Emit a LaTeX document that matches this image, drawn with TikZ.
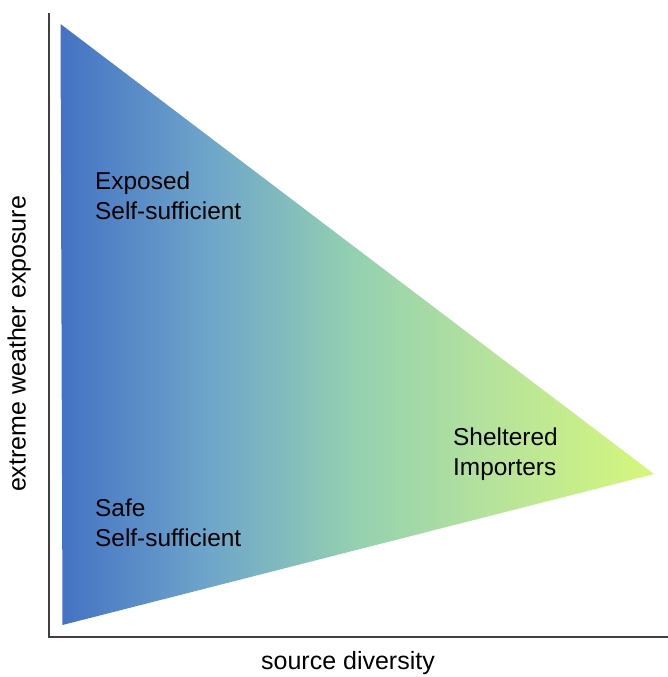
\documentclass[tikz,border=0pt]{standalone}
\usepackage{fontspec}
\setmainfont{Liberation Sans}
\definecolor{gradleft}{RGB}{68,114,196}
\definecolor{gradquarter}{RGB}{110,165,202}
\definecolor{gradmid}{RGB}{149,209,176}
\definecolor{gradthreeq}{RGB}{181,226,156}
\definecolor{gradright}{RGB}{214,247,124}
% left-to-right fade; the shaded path spans 25bp..75bp
\pgfdeclarehorizontalshading{zonefade}{100bp}{%
  color(0bp)=(gradleft); color(25bp)=(gradleft);
  color(37.5bp)=(gradquarter); color(50bp)=(gradmid);
  color(61bp)=(gradthreeq); color(75bp)=(gradright);
  color(100bp)=(gradright)}
\begin{document}
\begin{tikzpicture}[x=1pt,y=-1pt,
  axisline/.style={draw={rgb,255:red,64;green,64;blue,64}, line width=2pt},
  zonelabel/.style={anchor=base west, inner sep=0pt, align=left,
    font=\fontsize{24.4}{30}\selectfont},
  axislabel/.style={anchor=base, inner sep=0pt, font=\fontsize{25}{30}\selectfont}]
\useasboundingbox (0,0) rectangle (668,677);

% shaded triangle of the three zones
\shade[shading=zonefade]
  (60.5,24) -- (654,474) -- (62.5,625) -- cycle;

% axes
\coordinate (ytop) at (48.5,13);
\coordinate (origin) at (48.5,637);
\coordinate (xend) at (668,637);
\draw[axisline] (ytop) -- (origin) -- (xend);

% zone labels (anchored at the baseline of their last line)
\node[zonelabel] (exposed) at (95,219.3) {Exposed\\Self-sufficient};
\node[zonelabel] (sheltered) at (453,475.5) {Sheltered\\Importers};
\node[zonelabel] (safe) at (95,546.7) {Safe\\Self-sufficient};

% axis labels
\node[axislabel] (xlabel) at (348,669.5) {source diversity};
\node[axislabel, rotate=90] (ylabel) at (25.5,344) {extreme weather exposure};
\end{tikzpicture}
\end{document}
